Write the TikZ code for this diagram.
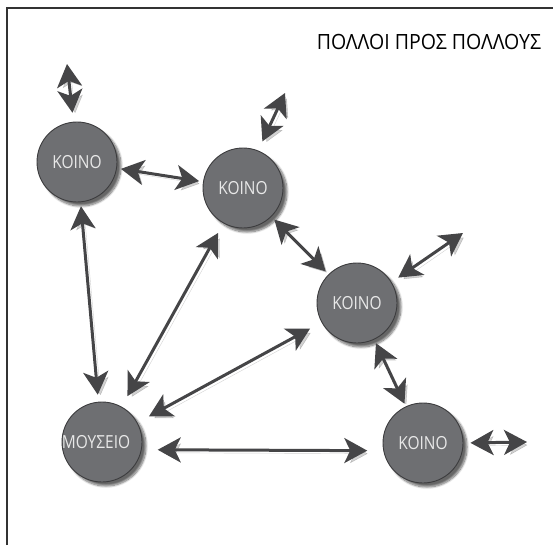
\documentclass[tikz,border=0pt]{standalone}
\usepackage{fontspec}
\setmainfont{Open Sans}[FakeStretch=0.86]
\newfontfamily\titlefont{Open Sans}[FakeStretch=0.93]
\usepackage{tikz}
\usetikzlibrary{arrows.meta,shadows.blur}
\definecolor{hubgray}{HTML}{6E6F72}
\definecolor{hubrim}{HTML}{3C3C3E}
\definecolor{arrowgray}{HTML}{454547}
\definecolor{hubtxt}{HTML}{E8E8E8}
\tikzset{
  hub/.style={
    circle, minimum size=80pt, inner sep=0pt, fill=hubgray, draw=hubrim, line width=0.9pt,
    text=hubtxt, font=\fontsize{18}{18}\selectfont,
    blur shadow={shadow xshift=4pt, shadow yshift=-4pt, shadow blur steps=10, shadow opacity=60}
  },
  biarrow/.style={
    draw=arrowgray, line width=3pt,
    {Stealth[length=23pt, width=25pt, inset=6pt]}-{Stealth[length=23pt, width=25pt, inset=6pt]},
    preaction={draw=black, opacity=0.18, transform canvas={shift={(3pt,-3pt)}}}
  }
}
\begin{document}
\begin{tikzpicture}[x=1pt, y=-1pt]
  \useasboundingbox (0,0) rectangle (553,545);

  % frame and title
  \draw[line width=1.4pt, black!80] (7,545) -- (7,8) -- (553,8);
  \node[font=\titlefont\fontsize{21}{21}\selectfont] (title) at (429,42) {ΠΟΛΛΟΙ ΠΡΟΣ ΠΟΛΛΟΥΣ};

  % the five circles
  \node[hub] (A) at (77,162) {ΚΟΙΝΟ};
  \node[hub] (B) at (243,188) {ΚΟΙΝΟ};
  \node[hub] (C) at (357,303) {ΚΟΙΝΟ};
  \node[hub] (D) at (423,443) {ΚΟΙΝΟ};
  \node[hub, label={[text=hubtxt, font=\fontsize{18}{18}\selectfont, xshift=-6pt]center:ΜΟΥΣΕΙΟ}] (M) at (102,442) {};

  % loose ends
  \coordinate (atop) at (67,64);
  \coordinate (btop) at (285,93);
  \coordinate (ctop) at (463,233);
  \coordinate (dright) at (527,442);

  % arrows between circles
  \draw[biarrow, shorten <=4pt, shorten >=4pt] (A) -- (B);
  \draw[biarrow, shorten <=4pt, shorten >=7pt] (A) -- (M);
  \draw[biarrow, shorten <=4pt, shorten >=4pt] (B) -- (C);
  \draw[biarrow, shorten <=4pt, shorten >=3pt] (C) -- (D);
  \draw[biarrow, shorten <=12pt, shorten >=11pt] (M) -- (B);
  \draw[biarrow, shorten <=13pt, shorten >=13pt] (M) -- (C);
  \draw[biarrow, shorten <=16pt, shorten >=16pt] (M.-11) -- (D.191);

  % arrows going out
  \draw[biarrow, shorten <=9pt] (A.95) -- (atop);
  \draw[biarrow, shorten <=10pt] (B.68) -- (btop);
  \draw[biarrow, shorten <=8pt] (C.31) -- (ctop);
  \draw[biarrow, shorten <=7pt] (D.east) -- (dright);

\end{tikzpicture}
\end{document}
